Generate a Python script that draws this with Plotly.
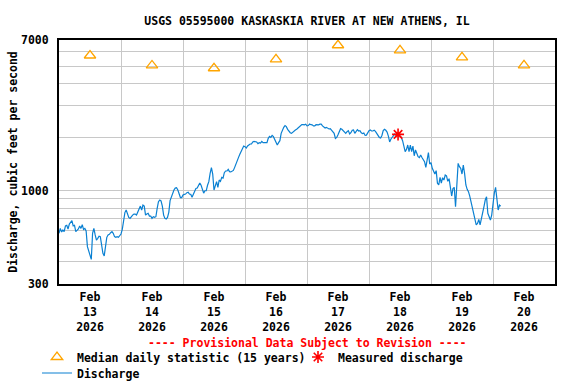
import numpy as np
import pandas as pd
import plotly.graph_objects as go

# ---------------- data ----------------
days = ["2026-02-13", "2026-02-14", "2026-02-15", "2026-02-16",
        "2026-02-17", "2026-02-18", "2026-02-19", "2026-02-20"]
day_labels = ["Feb<br>13<br>2026", "Feb<br>14<br>2026", "Feb<br>15<br>2026",
              "Feb<br>16<br>2026", "Feb<br>17<br>2026", "Feb<br>18<br>2026",
              "Feb<br>19<br>2026", "Feb<br>20<br>2026"]
median_cfs = [5730, 5040, 4860, 5450, 6540, 6130, 5600, 5050]

measured_time = ["2026-02-18 11:15"]
measured_cfs = [2070]

discharge_start = "2026-02-13 00:00"
discharge_cfs = [
    # Feb 13
    577, 615, 587, 602, 590, 635, 640, 610, 650, 662, 679, 635, 640, 590, 597, 610,
    635, 615, 645, 607, 615, 595, 486, 456, 436, 412, 577, 615, 565, 529, 541, 556,
    553, 507, 446, 431, 486, 548, 565, 570, 582, 590, 577, 553, 548, 553, 548, 565,
    # Feb 14
    572, 607, 685, 754, 780, 744, 709, 700, 721, 730, 740, 740, 730, 760, 807, 820,
    780, 832, 820, 730, 740, 747, 721, 721, 700, 715, 709, 715, 797, 868, 887, 877,
    820, 730, 700, 694, 709, 757, 880, 926, 975, 1009, 1035, 1040, 1009, 958, 916, 916,
    # Feb 15
    946, 954, 958, 975, 980, 958, 954, 918, 958, 1000, 1030, 1035, 1073, 1105, 1073, 1009,
    970, 1000, 1000, 1073, 1124, 1252, 1346, 1241, 1009, 1064, 1124, 1045, 1148, 1129, 1188, 1178,
    1262, 1290, 1290, 1318, 1280, 1275, 1290, 1300, 1352, 1424, 1474, 1538, 1600, 1655, 1720, 1781,
    # Feb 16
    1766, 1736, 1781, 1805, 1828, 1828, 1877, 1892, 1885, 1877, 1836, 1860, 1852, 1892, 1860, 1860,
    1868, 1860, 1966, 2015, 1990, 2042, 2010, 1950, 1877, 1805, 1860, 1908, 2098, 2210, 2267, 2320,
    2287, 2210, 2153, 2115, 2098, 2134, 2153, 2191, 2210, 2248, 2287, 2330, 2350, 2350, 2340, 2360,
    # Feb 17
    2310, 2320, 2365, 2345, 2340, 2310, 2310, 2345, 2340, 2340, 2360, 2360, 2310, 2267, 2248, 2267,
    2238, 2220, 2229, 2191, 2153, 2098, 1966, 1990, 2060, 2172, 2229, 2210, 2172, 2143, 2098, 2143,
    2172, 2080, 2115, 2182, 2191, 2098, 2134, 2200, 2162, 2172, 2115, 2090, 2105, 2042, 2050, 2115,
    # Feb 18
    2172, 2191, 2162, 2162, 2182, 2153, 2098, 2033, 1990, 1975, 2042, 2172, 2210, 2182, 2134, 2025,
    1877, 1950, 1990, 2060, 2080, 2042, 2098, 2060, 2025, 1990, 1908, 1766, 1655, 1705, 1805, 1655,
    1805, 1655, 1781, 1570, 1692, 1621, 1552, 1535, 1586, 1535, 1487, 1455, 1352, 1520, 1635, 1413,
    # Feb 19
    1436, 1335, 1280, 1241, 1296, 1100, 1077, 1188, 1105, 1183, 1148, 1225, 1210, 1129, 1168, 1032,
    934, 1028, 1045, 814, 1124, 1424, 1364, 1335, 1241, 1394, 1252, 1077, 1018, 988, 934, 868,
    797, 763, 700, 643, 656, 690, 643, 690, 730, 814, 887, 926, 747, 715, 685, 730,
    # Feb 20
    850, 967, 1045, 906, 780, 832, 820,
]

y_grid_vals = [300, 400, 500, 600, 700, 800, 900, 1000, 2000, 3000, 4000, 5000, 6000, 7000]
y_labeled = [300, 1000, 7000]

# ---------------- figure ----------------
FONT = "DejaVu Sans Mono"
fnt = dict(family=FONT, size=11.5, color="black", weight="bold")

times = pd.date_range(discharge_start, periods=len(discharge_cfs), freq="30min")
noon = [d + " 12:00" for d in days]
midnights = [d + " 00:00" for d in days[1:]]

fig = go.Figure()
fig.add_trace(go.Scatter(
    x=noon, y=median_cfs, mode="markers", name="Median daily statistic (15 years)",
    marker=dict(symbol="triangle-up-open", size=10, color="#FFA500",
                line=dict(color="#FFA500", width=1.3)),
    legend="legend", showlegend=True))
fig.add_trace(go.Scatter(
    x=times, y=discharge_cfs, mode="lines", name="Discharge",
    line=dict(color="#0a80d2", width=1.2), legend="legend3", showlegend=True))
fig.add_trace(go.Scatter(
    x=measured_time, y=measured_cfs, mode="markers", name="Measured discharge",
    marker=dict(symbol="asterisk-open", size=10, color="red",
                line=dict(color="red", width=1.6)),
    legend="legend2", showlegend=True))

L, R, T, B = 59, 21, 40, 100
PW = 576 - L - R
PH = 384 - T - B

def px_x(p):
    return (p - L) / PW

def px_y(p):
    return (384 - B - p) / PH

leg_common = dict(orientation="h", xanchor="left", yanchor="middle",
                  font=fnt, bgcolor="rgba(0,0,0,0)", borderwidth=0,
                  itemwidth=30)

fig.update_layout(
    width=576, height=384, showlegend=True,
    margin=dict(l=L, r=R, t=T, b=B, autoexpand=False),
    paper_bgcolor="white", plot_bgcolor="white",
    title=dict(text="USGS 05595000 KASKASKIA RIVER AT NEW ATHENS, IL",
               font=fnt, x=0.5, xref="paper", xanchor="center",
               y=1 - 21 / 384, yref="container", yanchor="middle"),
    xaxis=dict(type="date", range=["2026-02-13 00:00", "2026-02-21 00:00"],
               tickmode="array", tickvals=noon, ticktext=day_labels,
               showgrid=False, ticks="", tickfont=fnt, ticklabelstandoff=1,
               minor=dict(tickvals=midnights, showgrid=True,
                          gridcolor="#c8c8c8", gridwidth=1, ticks=""),
               showline=True, mirror=True, linecolor="black", linewidth=2,
               zeroline=False, fixedrange=True),
    yaxis=dict(type="log", range=[np.log10(300), np.log10(7000)],
               tickmode="array", tickvals=y_grid_vals,
               ticktext=[str(v) if v in y_labeled else "" for v in y_grid_vals],
               showgrid=True, gridcolor="#c8c8c8", gridwidth=1,
               ticks="", tickfont=fnt, ticklabelstandoff=6,
               showline=True, mirror=True, linecolor="black", linewidth=2,
               title=dict(text="Discharge, cubic feet per second", font=fnt,
                          standoff=1),
               zeroline=False, fixedrange=True),
    legend=dict(x=px_x(37), y=px_y(357), **leg_common),
    legend2=dict(x=px_x(298), y=px_y(357), **leg_common),
    legend3=dict(x=px_x(37), y=px_y(373), **leg_common),
    annotations=[dict(text="---- Provisional Data Subject to Revision ----",
                      x=0.5, xref="paper", y=px_y(343), yref="paper",
                      xanchor="center", yanchor="middle", showarrow=False,
                      font=dict(family=FONT, size=11.5, color="red", weight="bold"))],
)

fig.write_html("out.html",
               config={"displayModeBar": False},
               post_script="document.body.style.margin='0px';"
                           "document.documentElement.style.margin='0px';")
